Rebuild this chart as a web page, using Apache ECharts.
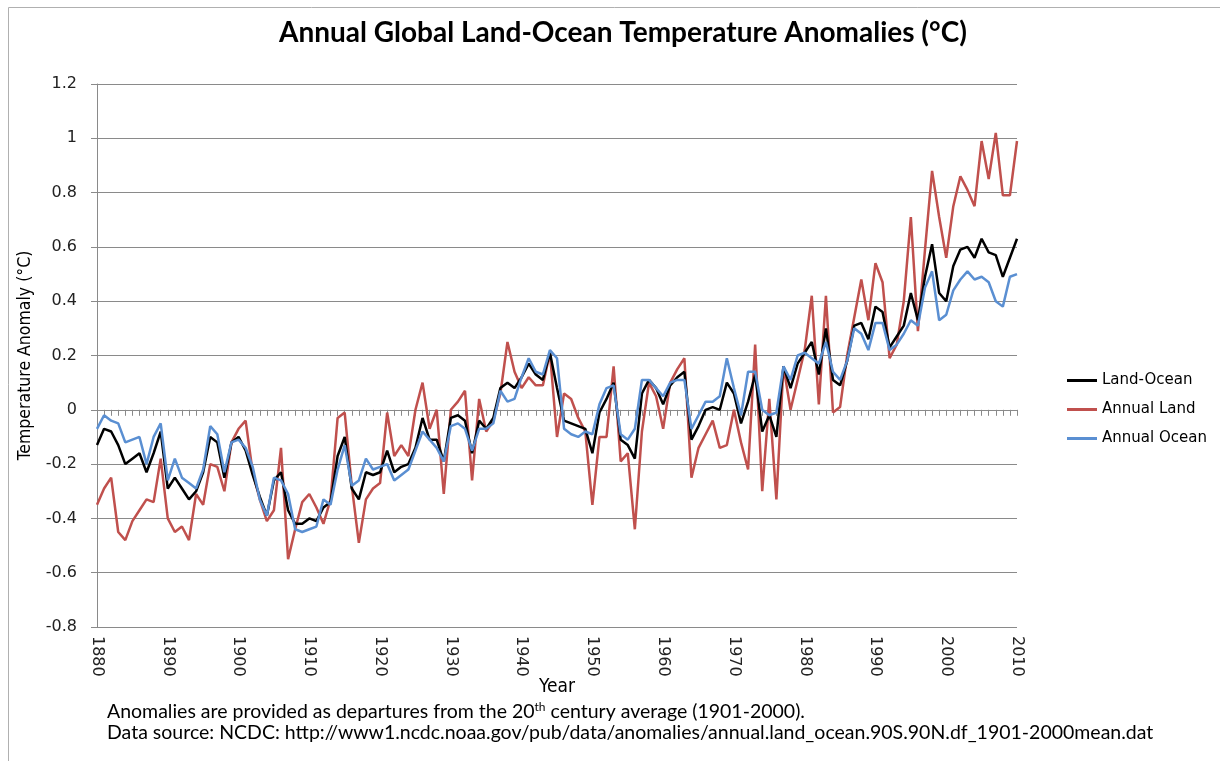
<!DOCTYPE html>
<html>
<head>
<meta charset="utf-8">
<script src="https://cdn.jsdelivr.net/npm/echarts@6/dist/echarts.min.js"></script>
<style>
html,body{margin:0;padding:0;background:#fff;}
#chart{width:1220px;height:761px;}
</style>
</head>
<body>
<div id="chart"></div>
<script>
const years = [];
for (let y = 1880; y <= 2010; y++) years.push(String(y));

const landOcean = [
  -0.13,-0.07,-0.08,-0.13,-0.20,-0.18,-0.16,-0.23,-0.16,-0.08,
  -0.29,-0.25,-0.29,-0.33,-0.30,-0.23,-0.10,-0.12,-0.25,-0.12,
  -0.10,-0.15,-0.24,-0.32,-0.39,-0.26,-0.23,-0.37,-0.42,-0.42,
  -0.40,-0.41,-0.36,-0.34,-0.17,-0.10,-0.29,-0.33,-0.23,-0.24,
  -0.23,-0.15,-0.23,-0.21,-0.20,-0.14,-0.03,-0.11,-0.11,-0.19,
  -0.03,-0.02,-0.04,-0.16,-0.04,-0.07,-0.03,0.08,0.10,0.08,
  0.12,0.17,0.13,0.11,0.21,0.08,-0.04,-0.05,-0.06,-0.07,
  -0.16,-0.01,0.04,0.10,-0.11,-0.13,-0.18,0.06,0.11,0.08,
  0.02,0.09,0.12,0.14,-0.11,-0.06,0.00,0.01,0.00,0.10,
  0.06,-0.05,0.03,0.13,-0.08,-0.02,-0.10,0.16,0.08,0.17,
  0.21,0.25,0.13,0.30,0.11,0.09,0.18,0.31,0.32,0.26,
  0.38,0.36,0.23,0.27,0.31,0.43,0.33,0.49,0.61,0.43,
  0.40,0.53,0.59,0.60,0.56,0.63,0.58,0.57,0.49,0.56,
  0.63
];

const annualLand = [
  -0.35,-0.29,-0.25,-0.45,-0.48,-0.41,-0.37,-0.33,-0.34,-0.18,
  -0.40,-0.45,-0.43,-0.48,-0.31,-0.35,-0.20,-0.21,-0.30,-0.12,
  -0.07,-0.04,-0.23,-0.33,-0.41,-0.37,-0.14,-0.55,-0.44,-0.34,
  -0.31,-0.36,-0.42,-0.33,-0.03,-0.01,-0.28,-0.49,-0.33,-0.29,
  -0.27,-0.01,-0.17,-0.13,-0.17,0.00,0.10,-0.07,0.00,-0.31,
  0.00,0.03,0.07,-0.26,0.04,-0.08,-0.04,0.06,0.25,0.14,
  0.08,0.12,0.09,0.09,0.21,-0.10,0.06,0.04,-0.03,-0.08,
  -0.35,-0.10,-0.10,0.16,-0.19,-0.16,-0.44,-0.08,0.10,0.05,
  -0.07,0.10,0.15,0.19,-0.25,-0.14,-0.09,-0.04,-0.14,-0.13,
  0.00,-0.12,-0.22,0.24,-0.30,0.04,-0.33,0.16,0.00,0.11,
  0.22,0.42,0.02,0.42,-0.01,0.01,0.20,0.34,0.48,0.33,
  0.54,0.47,0.19,0.24,0.40,0.71,0.29,0.59,0.88,0.71,
  0.56,0.75,0.86,0.81,0.75,0.99,0.85,1.02,0.79,0.79,
  0.99
];

const annualOcean = [
  -0.07,-0.02,-0.04,-0.05,-0.12,-0.11,-0.10,-0.20,-0.10,-0.05,
  -0.26,-0.18,-0.25,-0.27,-0.29,-0.22,-0.06,-0.09,-0.23,-0.12,
  -0.11,-0.14,-0.21,-0.33,-0.39,-0.25,-0.26,-0.31,-0.44,-0.45,
  -0.44,-0.43,-0.33,-0.35,-0.22,-0.13,-0.28,-0.26,-0.18,-0.22,
  -0.21,-0.20,-0.26,-0.24,-0.22,-0.15,-0.08,-0.11,-0.14,-0.19,
  -0.06,-0.05,-0.07,-0.15,-0.07,-0.07,-0.05,0.07,0.03,0.04,
  0.12,0.19,0.14,0.13,0.22,0.19,-0.07,-0.09,-0.10,-0.08,
  -0.09,0.02,0.08,0.09,-0.09,-0.11,-0.07,0.11,0.11,0.08,
  0.05,0.10,0.11,0.11,-0.07,-0.02,0.03,0.03,0.05,0.19,
  0.08,-0.02,0.14,0.14,0.00,-0.02,-0.01,0.16,0.11,0.20,
  0.21,0.19,0.17,0.25,0.14,0.11,0.18,0.30,0.28,0.22,
  0.32,0.32,0.22,0.24,0.28,0.33,0.31,0.45,0.51,0.33,
  0.35,0.44,0.48,0.51,0.48,0.49,0.47,0.40,0.38,0.49,
  0.50
];

const seriesNames = ['Land-Ocean', 'Annual Land', 'Annual Ocean'];
const titleText = 'Annual Global Land-Ocean Temperature Anomalies (°C)';
const yAxisName = 'Temperature Anomaly (°C)';
const xAxisName = 'Year';
const note1Parts = ['Anomalies are provided as departures from the 20', 'th', ' century average (1901-2000).'];
const note2 = 'Data source: NCDC: http://www1.ncdc.noaa.gov/pub/data/anomalies/annual.land_ocean.90S.90N.df_1901-2000mean.dat';

const chart = echarts.init(document.getElementById('chart'), null, {renderer: 'canvas'});
const gridCol = '#8a8a8a';
const labelFont = "'DejaVu Sans', Verdana, sans-serif";
const narrowFont = "'Liberation Sans Narrow', 'DejaVu Sans Condensed', 'Arial Narrow', sans-serif";
const calFont = "Lato, 'Open Sans', sans-serif";

chart.setOption({
  animation: false,
  backgroundColor: '#fff',
  title: {
    text: titleText,
    left: 274,
    top: 14,
    textStyle: {fontFamily: calFont, fontWeight: 'bold', fontSize: 28, color: '#000'}
  },
  legend: {
    orient: 'vertical',
    left: 1062,
    top: 368,
    itemWidth: 30,
    itemHeight: 3,
    itemGap: 14,
    icon: 'rect',
    textStyle: {fontFamily: labelFont, fontSize: 15, color: '#000'},
    data: seriesNames
  },
  grid: {left: 97, right: 203, top: 84, bottom: 134, containLabel: false},
  xAxis: [
    {
      type: 'category',
      data: years,
      boundaryGap: false,
      position: 'bottom',
      axisLine: {show: false, onZero: false},
      axisTick: {show: false},
      axisLabel: {
        interval: 9,
        rotate: -90,
        fontFamily: labelFont,
        fontSize: 16,
        color: '#222',
        margin: 9
      }
    },
    {
      type: 'category',
      data: years,
      boundaryGap: false,
      position: 'bottom',
      axisLine: {show: true, onZero: true, lineStyle: {color: gridCol, width: 1}},
      axisTick: {show: true, interval: 0, length: 6, inside: false, lineStyle: {color: gridCol}},
      axisLabel: {show: false},
      splitLine: {show: false}
    }
  ],
  yAxis: {
    type: 'value',
    min: -0.8,
    max: 1.2,
    interval: 0.2,
    axisLine: {show: true, lineStyle: {color: gridCol}},
    axisTick: {show: true, length: 6, lineStyle: {color: gridCol}},
    axisLabel: {
      fontFamily: labelFont,
      fontSize: 16,
      color: '#222',
      margin: 20,
      formatter: function (v) { return String(Math.round(v * 10) / 10); }
    },
    splitLine: {show: true, lineStyle: {color: gridCol, width: 1}},
    name: yAxisName,
    nameLocation: 'middle',
    nameRotate: 90,
    nameGap: 63,
    nameTextStyle: {fontFamily: narrowFont, fontSize: 17.5, color: '#000'}
  },
  series: [
    {name: seriesNames[0], type: 'line', data: landOcean, showSymbol: false, symbol: 'none',
     lineStyle: {color: '#000000', width: 2.5}, itemStyle: {color: '#000000'}, z: 3},
    {name: seriesNames[1], type: 'line', data: annualLand, showSymbol: false, symbol: 'none',
     lineStyle: {color: '#C0504D', width: 2.5}, itemStyle: {color: '#C0504D'}, z: 2},
    {name: seriesNames[2], type: 'line', data: annualOcean, showSymbol: false, symbol: 'none',
     lineStyle: {color: '#5A8FD2', width: 2.5}, itemStyle: {color: '#5A8FD2'}, z: 4}
  ],
  graphic: [
    {type: 'rect', left: 6, top: 5, z: -10, silent: true,
     shape: {width: 1300, height: 800}, style: {fill: 'none', stroke: '#b0b0b0', lineWidth: 1}},
    {type: 'text', x: 557, y: 687,
     style: {text: xAxisName, fontFamily: narrowFont, fontSize: 19, fill: '#000',
             align: 'center', verticalAlign: 'middle'}},
    {type: 'text', left: 107, top: 701,
     style: {
       text: '{a|' + note1Parts[0] + '}{s|' + note1Parts[1] + '}{a|' + note1Parts[2] + '}',
       rich: {
         a: {fontFamily: calFont, fontSize: 19.5, fill: '#000', lineHeight: 22},
         s: {fontFamily: calFont, fontSize: 12, fill: '#000', lineHeight: 22, verticalAlign: 'top', padding: [0, 0, 9, 0]}
       }
     }},
    {type: 'text', left: 107, top: 723,
     style: {text: note2, fontFamily: calFont, fontSize: 19.5, fill: '#000'}}
  ]
});
</script>
</body>
</html>
